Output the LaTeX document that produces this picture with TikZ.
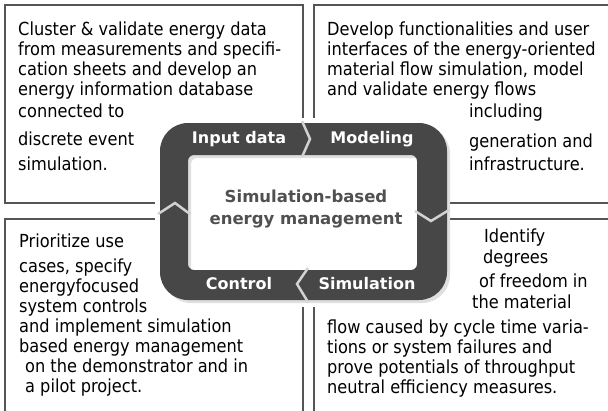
\documentclass[tikz,border=0pt]{standalone}
\usepackage{fontspec}
\setmainfont{DejaVu Sans Condensed}
\newfontfamily\labelfont{DejaVu Sans}

\definecolor{bandgray}{HTML}{474747}
\definecolor{notchgray}{HTML}{D2D2D2}
\definecolor{framegray}{HTML}{555555}
\definecolor{coregray}{HTML}{505050}

\tikzset{
  frameline/.style={draw=framegray, line width=1.5pt},
  loopband/.style={fill=bandgray, even odd rule},
  notch/.style={draw=notchgray, line width=2.5pt, line join=miter},
  steplabel/.style={text=white, font=\labelfont\bfseries\fontsize{16}{18}\selectfont},
  coretext/.style={text=coregray, align=center, font=\labelfont\bfseries\fontsize{16.5}{22}\selectfont},
  bodytext/.style={anchor=north west, inner sep=0pt, align=left, font=\fontsize{18}{20}\selectfont},
}

\begin{document}
\begin{tikzpicture}[x=1pt,y=-1pt]
  \useasboundingbox (0,0) rectangle (608,410);

  % open frames of the four fields
  \draw[frameline] (155,203) -- (5,203) -- (5,5) -- (303,5) -- (303,118);
  \draw[frameline] (314,118) -- (314,5) -- (612,5);
  \draw[frameline] (450,203) -- (612,203);
  \draw[frameline] (155,219) -- (5,219) -- (5,414);
  \draw[frameline] (303,307) -- (303,414);
  \draw[frameline] (314,307) -- (314,414);
  \draw[frameline] (450,219) -- (612,219);

  % the loop
  \fill[gray!50, opacity=.5, even odd rule, rounded corners=28pt] (163,126) rectangle (450,303)
    [rounded corners=6pt] (191,158) rectangle (420,273);
  \fill[loopband, rounded corners=28pt] (160,123) rectangle (447,300)
    [rounded corners=6pt] (188,155) rectangle (417,270);
  \draw[notch] (302,121) -- (310,139) -- (302,157);
  \draw[notch] (308,268) -- (297,284) -- (308,302);
  \draw[notch] (158,214) -- (175,203) -- (190,214);
  \draw[notch] (415,211) -- (431,221) -- (449,210);

  \node[steplabel] (input) at (239,139) {Input data};
  \node[steplabel] (modeling) at (372,139) {Modeling};
  \node[steplabel] (simulation) at (367,284) {Simulation};
  \node[steplabel] (control) at (239,284) {Control};
  \node[coretext] (core) at (306,209) {Simulation-based\\energy management};

  % field texts
  \node[bodytext] (inputtext) at (18,22) {Cluster \& validate energy data\\
    from measurements and specifi-\\
    cation sheets and develop an\\
    energy information database\\[2pt]
    connected to\\[8pt]
    discrete event\\[5pt]
    simulation.};
  \node[bodytext] (modeltext) at (327,22) {Develop functionalities and user\\
    interfaces of the energy-oriented\\
    material flow simulation, model\\
    and validate energy flows\\[2pt]
    \hspace*{142pt}including\\[10pt]
    \hspace*{142pt}generation and\\[3pt]
    \hspace*{142pt}infrastructure.};
  \node[bodytext] (controltext) at (19,234) {Prioritize use\\[5pt]
    cases, specify\\
    energyfocused\\
    system controls\\
    and implement simulation\\
    based energy management\\
    \hspace*{6pt}on the demonstrator and in\\
    \hspace*{6pt}a pilot project.};
  \node[bodytext] (simtext) at (327,229) {\hspace*{157pt}Identify\\[1pt]
    \hspace*{156pt}degrees\\[4pt]
    \hspace*{152pt}of freedom in\\[1pt]
    \hspace*{145pt}the material\\[5pt]
    flow caused by cycle time varia-\\
    tions or system failures and\\
    prove potentials of throughput\\
    neutral efficiency measures.};
\end{tikzpicture}
\end{document}
